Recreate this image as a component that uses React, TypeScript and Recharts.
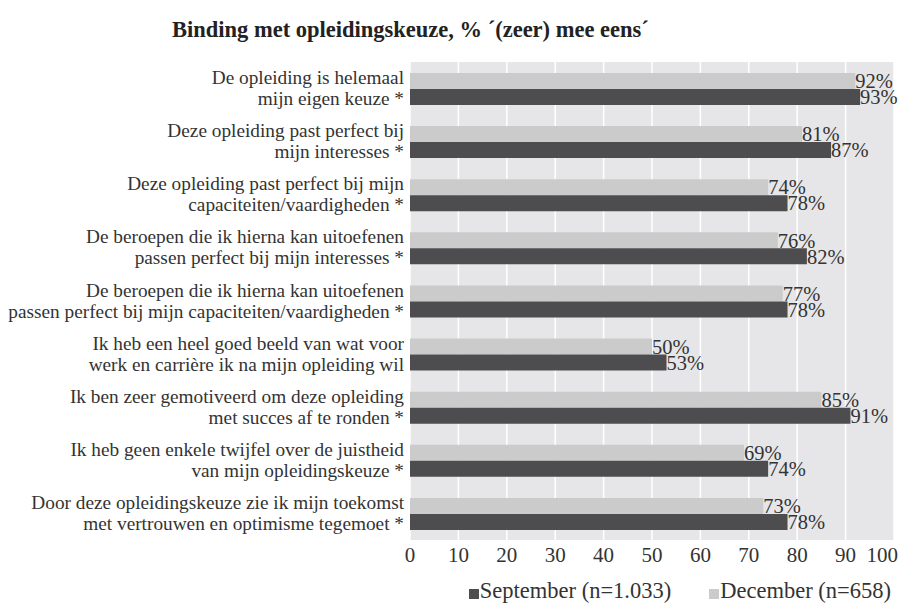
import React from "react";
import {
  BarChart,
  Bar,
  XAxis,
  YAxis,
  CartesianGrid,
  LabelList,
  Legend,
} from "recharts";

const FONT = "'Liberation Serif', 'DejaVu Serif', serif";

const statements = [
  ["De opleiding is helemaal", "mijn eigen keuze *"],
  ["Deze opleiding past perfect bij", "mijn interesses *"],
  ["Deze opleiding past perfect bij mijn", "capaciteiten/vaardigheden *"],
  ["De beroepen die ik hierna kan uitoefenen", "passen perfect bij mijn interesses *"],
  ["De beroepen die ik hierna kan uitoefenen", "passen perfect bij mijn capaciteiten/vaardigheden *"],
  ["Ik heb een heel goed beeld van wat voor", "werk en carrière ik na mijn opleiding wil"],
  ["Ik ben zeer gemotiveerd om deze opleiding", "met succes af te ronden *"],
  ["Ik heb geen enkele twijfel over de juistheid", "van mijn opleidingskeuze *"],
  ["Door deze opleidingskeuze zie ik mijn toekomst", "met vertrouwen en optimisme tegemoet *"],
];

const september = [93, 87, 78, 82, 78, 53, 91, 74, 78];
const december = [92, 81, 74, 76, 77, 50, 85, 69, 73];

const xTicks = [0, 10, 20, 30, 40, 50, 60, 70, 80, 90, 100];

const legendItems = [
  { label: "September (n=1.033)", color: "#4d4d4f" },
  { label: "December (n=658)", color: "#cbcbcc" },
];

const data = statements.map((s, i) => ({
  name: s.join("|"),
  september: september[i],
  december: december[i],
}));

const CategoryTick = (props: any) => {
  const { x, y, payload } = props;
  const lines = String(payload.value).split("|");
  return (
    <g transform={`translate(${x},${y})`}>
      {lines.map((l, i) => (
        <text
          key={i}
          x={2}
          y={(i - 0.5) * 21}
          dy={6}
          textAnchor="end"
          fontFamily={FONT}
          fontSize={19.3}
          fill="#333"
        >
          {l}
        </text>
      ))}
    </g>
  );
};

const ValueTick = (props: any) => {
  const { x, y, payload } = props;
  const last = payload.value === 100;
  return (
    <text
      x={last ? x + 4 : x}
      y={y}
      dy={14}
      textAnchor={last ? "end" : "middle"}
      fontFamily={FONT}
      fontSize={21}
      fill="#333"
    >
      {payload.value}
    </text>
  );
};

const renderLegend = () => (
  <div
    style={{
      display: "flex",
      justifyContent: "flex-end",
      gap: 38,
      paddingRight: 3,
      marginTop: 6,
      fontFamily: FONT,
      fontSize: 22.5,
      color: "#333",
      lineHeight: "26px",
    }}
  >
    {legendItems.map((it) => (
      <span key={it.label} style={{ display: "flex", alignItems: "center" }}>
        <span
          style={{
            display: "inline-block",
            width: 10,
            height: 10,
            background: it.color,
            marginRight: 1,
            marginTop: 5,
          }}
        />
        {it.label}
      </span>
    ))}
  </div>
);

export default function App() {
  return (
    <div style={{ position: "absolute", left: 0, top: 0, width: 900, height: 604 }}>
      <div
        style={{
          position: "absolute",
          left: 172,
          top: 17,
          fontFamily: FONT,
          fontWeight: "bold",
          fontSize: 22.5,
          color: "#222",
        }}
      >
        Binding met opleidingskeuze, % ´(zeer) mee eens´
      </div>
      <BarChart
        width={900}
        height={604}
        data={data}
        layout="vertical"
        margin={{ top: 62, right: 6, left: 0, bottom: 4 }}
        barGap={0}
        barSize={16}
      >
        <CartesianGrid
          horizontal={false}
          stroke="#ffffff"
          strokeWidth={1.5}
          fill="#e6e6e8"
          fillOpacity={1}
        />
        <XAxis
          type="number"
          domain={[0, 100]}
          ticks={xTicks}
          axisLine={false}
          tickLine={false}
          height={32}
          interval={0}
          tick={<ValueTick />}
        />
        <YAxis
          type="category"
          dataKey="name"
          width={410}
          axisLine={false}
          tickLine={false}
          interval={0}
          tick={<CategoryTick />}
        />
        <Legend verticalAlign="bottom" height={28} content={renderLegend} />
        <Bar dataKey="december" fill="#cbcbcc" isAnimationActive={false}>
          <LabelList
            dataKey="december"
            position="right"
            offset={0}
            formatter={(v: any) => `${v}%`}
            style={{ fontFamily: FONT, fontSize: 20.5, fill: "#333" }}
          />
        </Bar>
        <Bar dataKey="september" fill="#4d4d4f" isAnimationActive={false}>
          <LabelList
            dataKey="september"
            position="right"
            offset={0}
            formatter={(v: any) => `${v}%`}
            style={{ fontFamily: FONT, fontSize: 20.5, fill: "#333" }}
          />
        </Bar>
      </BarChart>
    </div>
  );
}
